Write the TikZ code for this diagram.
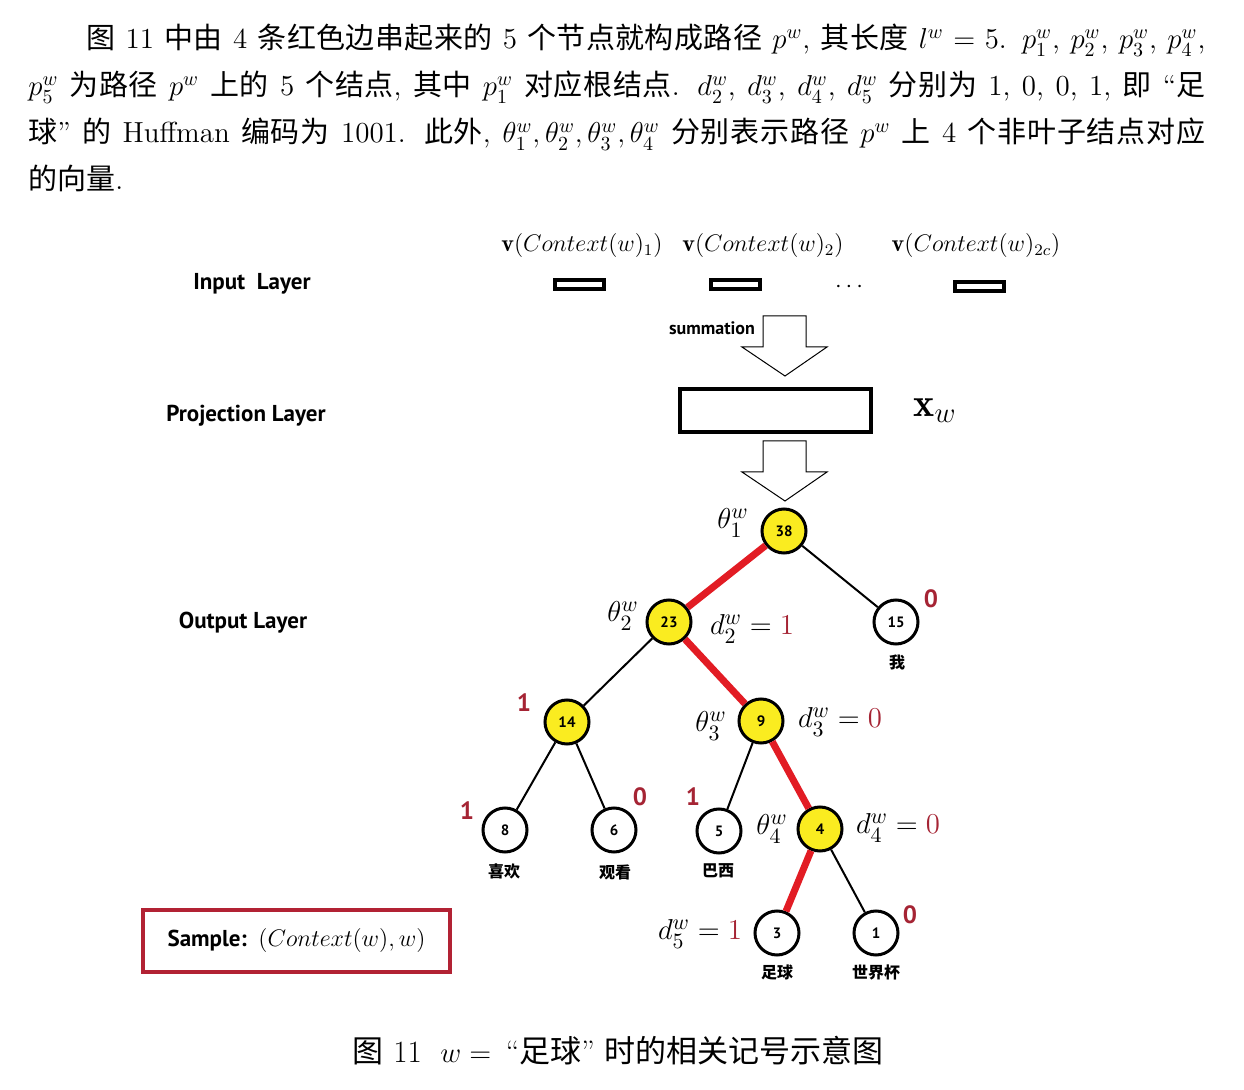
\documentclass[tikz,border=0pt]{standalone}
\usepackage{amsmath}
\usepackage{fontspec}
\usepackage{tikz}
\usetikzlibrary{positioning, calc}
\newfontfamily\cjk{Noto Sans CJK SC}
\newfontfamily\labelfont{PT Sans}
\definecolor{pathred}{RGB}{226, 28, 36}
\definecolor{bitred}{RGB}{165, 36, 52}
\definecolor{boxred}{RGB}{178, 34, 52}
\definecolor{nodeyellow}{RGB}{250, 236, 32}

\tikzset{
    layer/.style={font=\labelfont\bfseries\fontsize{11.5}{13}\selectfont},
    inner/.style={circle, draw, line width=1.5pt, fill=nodeyellow, minimum size=22pt, inner sep=0pt, font=\labelfont\bfseries\fontsize{7.5}{9}\selectfont},
    leaf/.style={inner, fill=white},
    word/.style={font=\cjk\bfseries\fontsize{8}{10}\selectfont},
    bit/.style={text=bitred, font=\labelfont\bfseries\fontsize{12.5}{14}\selectfont},
    mlabel/.style={font=\fontsize{15.5}{18}\selectfont, inner sep=0pt},
    onpath/.style={draw=pathred, line width=3.5pt},
    offpath/.style={draw=black, line width=1pt},
    vecbox/.style={draw, line width=2pt, minimum width=24.5pt, minimum height=4.5pt, inner sep=0pt},
    blockarrow/.style={draw, line width=0.5pt, fill=white, line join=miter}
}

\begin{document}
\begin{tikzpicture}[x=0.5pt, y=-0.5pt]
    \useasboundingbox (0,0) rectangle (1244,1090);

    % --- Tekst akapitu ---
    \node[anchor=north west, inner sep=0pt, text width=588.5pt, align=justify,
          font=\fontsize{14.5}{23.5}\selectfont] (para) at (28,24) {%
        \XeTeXlinebreaklocale "zh"\XeTeXlinebreakskip=0pt plus 1pt%
        \hspace*{29pt}{\cjk 图} 11 {\cjk 中由} 4 {\cjk 条红色边串起来的} 5 {\cjk 个节点就构成路径} $p^w$, {\cjk 其长度} $l^w=5$. $p_1^w$, $p_2^w$, $p_3^w$, $p_4^w$,\linebreak
        $p_5^w$ {\cjk 为路径} $p^w$ {\cjk 上的} 5 {\cjk 个结点}, {\cjk 其中} $p_1^w$ {\cjk 对应根结点}. $d_2^w$, $d_3^w$, $d_4^w$, $d_5^w$ {\cjk 分别为} 1, 0, 0, 1, {\cjk 即} ``{\cjk 足}\linebreak
        {\cjk 球}'' {\cjk 的} Huffman {\cjk 编码为} 1001. {\cjk 此外}, $\theta_1^w,\theta_2^w,\theta_3^w,\theta_4^w$ {\cjk 分别表示路径} $p^w$ {\cjk 上} 4 {\cjk 个非叶子结点对应}\linebreak
        {\cjk 的向量}.};

    % --- Warstwy ---
    \node[layer] (inlayer) at (252,284) {Input\ \ Layer};
    \node[layer] (projlayer) at (246,416) {Projection Layer};
    \node[layer] (outlayer) at (243,623) {Output Layer};

    % Wektory kontekstu
    \node[font=\fontsize{12}{14}\selectfont] (ctx1) at (582,246) {$\mathbf{v}(Context(w)_1)$};
    \node[font=\fontsize{12}{14}\selectfont] (ctx2) at (763,246) {$\mathbf{v}(Context(w)_2)$};
    \node[font=\fontsize{12}{14}\selectfont] (ctx3) at (976,246) {$\mathbf{v}(Context(w)_{2c})$};
    \node[vecbox] (vec1) at (579.5,284.5) {};
    \node[vecbox] (vec2) at (735,284.5) {};
    \node[vecbox] (vec3) at (979,286.5) {};
    \node[font=\fontsize{12.5}{14}\selectfont] (dots) at (851,287) {$\cdots$};

    % Strzalki blokowe
    \coordinate (sumtip) at (785,376);
    \coordinate (projtip) at (785,501);
    \foreach \t in {sumtip, projtip}
        \draw[blockarrow] (\t) -- ++(-43,-29) -- ++(21,0) -- ++(0,-31) -- ++(43,0) -- ++(0,31) -- ++(21,0) -- cycle;
    \node[font=\labelfont\bfseries\fontsize{9}{11}\selectfont] (sum) at (712,328) {summation};

    % Warstwa projekcji
    \node[draw, line width=2pt, minimum width=95.5pt, minimum height=21.5pt, inner sep=0pt] (proj) at (775.5,410.5) {};
    \node[font=\fontsize{20}{24}\selectfont] (xw) at (935,411) {$\mathbf{x}_w$};

    % --- Drzewo Huffmana ---
    \node[inner] (n38) at (784,531) {38};
    \node[inner] (n23) at (669,622) {23};
    \node[leaf]  (n15) at (896,622) {15};
    \node[inner] (n14) at (567,722) {14};
    \node[inner] (n9)  at (761,721) {9};
    \node[leaf]  (n8)  at (505,830) {8};
    \node[leaf]  (n6)  at (614,830) {6};
    \node[leaf]  (n5)  at (719,831) {5};
    \node[inner] (n4)  at (820,829) {4};
    \node[leaf]  (n3)  at (777,933) {3};
    \node[leaf]  (n1)  at (876,933) {1};

    \draw[onpath] (n38) -- (n23);
    \draw[onpath] (n23) -- (n9);
    \draw[onpath] (n9) -- (n4);
    \draw[onpath] (n4) -- (n3);
    \draw[offpath] (n38) -- (n15);
    \draw[offpath] (n23) -- (n14);
    \draw[offpath] (n14) -- (n8);
    \draw[offpath] (n14) -- (n6);
    \draw[offpath] (n9) -- (n5);
    \draw[offpath] (n4) -- (n1);

    % Slowa pod lisciami
    \node[word] (w15) at ($(n15)+(1,40)$) {我};
    \node[word] (w8)  at ($(n8)+(-1,41)$) {喜欢};
    \node[word] (w6)  at ($(n6)+(1,42)$) {观看};
    \node[word] (w5)  at ($(n5)+(-1,40)$) {巴西};
    \node[word] (w3)  at ($(n3)+(0,39)$) {足球};
    \node[word] (w1)  at ($(n1)+(0,39)$) {世界杯};

    % Bity
    \node[bit] (b15) at (931,599) {0};
    \node[bit] (b14) at (524,703) {1};
    \node[bit] (b8)  at (467,811) {1};
    \node[bit] (b6)  at (640,797) {0};
    \node[bit] (b5)  at (693,797) {1};
    \node[bit] (b1)  at (910,915) {0};

    % Etykiety theta i d
    \node[mlabel] (t1) at (733,523) {$\theta_1^w$};
    \node[mlabel] (t2) at (623,616) {$\theta_2^w$};
    \node[mlabel] (t3) at (711,726) {$\theta_3^w$};
    \node[mlabel] (t4) at (772,829) {$\theta_4^w$};
    \node[mlabel] (d2) at (752,629) {$d_2^w=\textcolor{bitred}{1}$};
    \node[mlabel] (d3) at (840,722) {$d_3^w=\textcolor{bitred}{0}$};
    \node[mlabel] (d4) at (898,828) {$d_4^w=\textcolor{bitred}{0}$};
    \node[mlabel] (d5) at (700,934) {$d_5^w=\textcolor{bitred}{1}$};

    % --- Ramka z probka ---
    \node[draw=boxred, line width=2pt, minimum width=153.5pt, minimum height=31pt, inner sep=0pt] (sample) at (296.5,941)
        {\labelfont\bfseries\fontsize{11.5}{13}\selectfont Sample:\ \ \fontsize{12}{14}\selectfont$(Context(w),w)$};

    % --- Podpis ---
    \node[font=\fontsize{15.5}{18}\selectfont] (caption) at (618,1051)
        {{\cjk 图} 11\ \ $w=$\ \,``{\cjk 足球}'' {\cjk 时的相关记号示意图}};
\end{tikzpicture}
\end{document}
